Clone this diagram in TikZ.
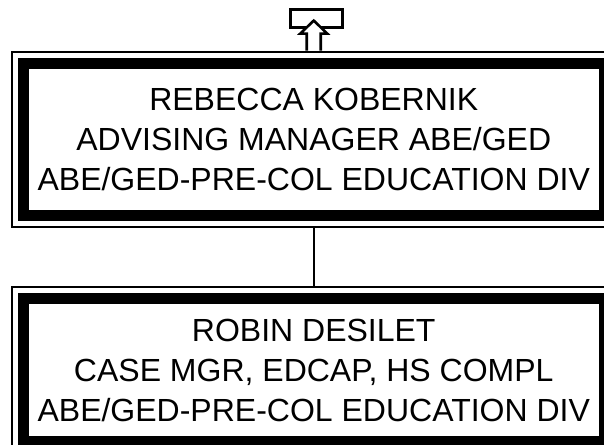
\documentclass[tikz,border=0pt]{standalone}
\usepackage{fontspec}
\setmainfont{Liberation Sans}
\usetikzlibrary{calc}
\usetikzlibrary{fit}

\tikzset{
	posbox/.style={draw, line width=11pt, minimum width=580.5pt, inner sep=0pt, align=center, font=\fontsize{32}{40}\selectfont},
	posframe/.style={draw, line width=2.6pt, inner sep=6.1pt},
	link/.style={line width=2.2pt},
	upbox/.style={draw, line width=2.8pt, minimum width=52pt, minimum height=17.7pt, inner sep=0pt},
	uparrow/.style={draw, fill=white, line width=2.6pt, line join=miter}
}

\begin{document}
\begin{tikzpicture}[x=1pt, y=-1pt]
			\useasboundingbox (0, 0) rectangle (604, 444);
			\clip (0, 0) rectangle (604, 444);

			\node[posbox, minimum height=152pt] (rebecca) at (313.75, 139.5) {REBECCA KOBERNIK\\ADVISING MANAGER ABE/GED\\ABE/GED-PRE-COL EDUCATION DIV};
			\node[posbox, minimum height=143pt] (robin) at (313.75, 370) {ROBIN DESILET\\CASE MGR, EDCAP, HS COMPL\\ABE/GED-PRE-COL EDUCATION DIV};
			\node[posframe, fit=(rebecca)] (rebeccaframe) {};
			\node[posframe, fit=(robin)] (robinframe) {};

			\draw[link](rebeccaframe)--(robinframe);

			\node[upbox] (above) at (316.7, 18.3) {};
			\draw[uparrow]($(rebeccaframe.north)+(-7, 0)$)--++(0, -17)--++(-6.5, 0)--++(13.5, -13)--++(13.5, 13)--++(-6.5, 0)--++(0, 17);
		\end{tikzpicture}
\end{document}
